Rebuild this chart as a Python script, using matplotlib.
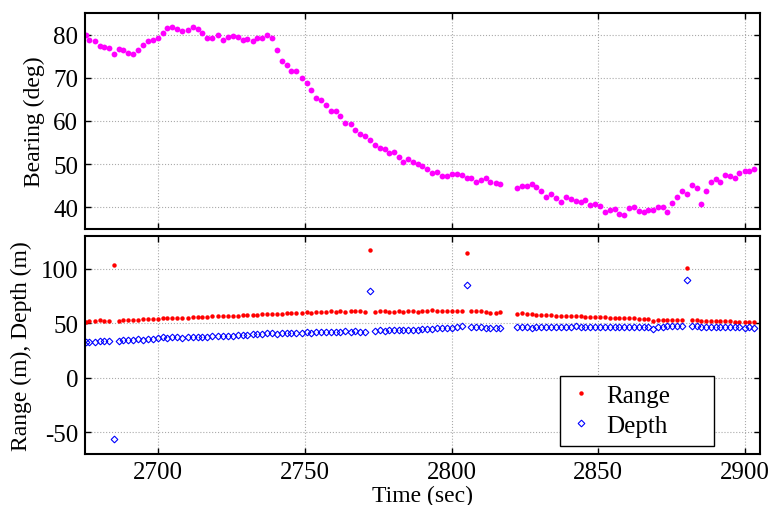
import matplotlib.pyplot as plt
import numpy as np

# sample times (sec), shared by all three series
time_s = [2675.2, 2676.5, 2678.3, 2680.0, 2681.5, 2683.2, 2684.9, 2686.6, 2687.9, 2689.8,
          2691.4, 2693.1, 2694.9, 2696.6, 2698.3, 2699.9, 2701.5, 2703.1, 2704.8, 2706.5,
          2708.2, 2710.0, 2711.7, 2713.4, 2715.0, 2716.6, 2718.4, 2720.3, 2722.0, 2723.6,
          2725.4, 2727.0, 2728.7, 2730.4, 2732.2, 2733.8, 2735.4, 2737.1, 2738.9, 2740.5,
          2742.1, 2743.7, 2745.4, 2747.1, 2748.9, 2750.6, 2752.2, 2753.9, 2755.6, 2757.3,
          2758.9, 2760.5, 2762.1, 2763.8, 2765.6, 2767.2, 2768.9, 2770.6, 2772.2, 2773.8,
          2775.5, 2777.2, 2778.8, 2780.4, 2782.0, 2783.5, 2785.0, 2786.7, 2788.4, 2790.0,
          2791.7, 2793.4, 2795.0, 2796.7, 2798.3, 2800.0, 2801.7, 2803.4, 2805.1, 2806.5,
          2808.3, 2810.0, 2811.7, 2813.2, 2815.0, 2816.6,
          2822.3, 2824.0, 2825.7, 2827.4, 2828.9, 2830.6, 2832.3, 2834.0, 2835.7, 2837.2,
          2838.9, 2840.6, 2842.3, 2844.0, 2845.6, 2847.1, 2848.8, 2850.5, 2852.2, 2853.9,
          2855.6, 2857.1, 2858.8, 2860.4, 2862.1, 2863.8, 2865.4, 2867.0, 2868.6, 2870.3,
          2872.0, 2873.5, 2875.2, 2876.8, 2878.5, 2880.2, 2881.9, 2883.6, 2885.1, 2886.8,
          2888.3, 2890.0, 2891.5, 2893.2, 2894.9, 2896.6, 2898.1, 2899.9, 2901.5, 2903.2]

bearing_deg = [79.8, 78.8, 78.5, 77.3, 77.2, 76.9, 75.5, 76.7, 76.5, 75.7,
               75.4, 76.5, 77.7, 78.5, 78.8, 79.2, 80.4, 81.5, 81.7, 81.3,
               80.9, 81.1, 81.7, 81.3, 80.4, 79.2, 79.2, 80.0, 78.8, 79.4,
               79.6, 79.5, 78.8, 79.0, 78.6, 79.2, 79.2, 79.9, 79.2, 76.4,
               74.0, 73.0, 71.5, 71.5, 70.0, 68.8, 67.1, 65.4, 64.8, 63.6,
               62.2, 62.3, 61.1, 59.5, 59.2, 58.0, 57.1, 56.5, 55.5, 54.4,
               53.8, 53.6, 52.7, 52.8, 51.7, 50.5, 51.1, 50.5, 50.0, 49.6,
               49.0, 48.0, 48.2, 47.2, 47.2, 47.8, 47.8, 47.5, 46.9, 46.9,
               45.9, 46.3, 46.9, 45.9, 45.7, 45.4,
               44.4, 44.9, 44.9, 45.4, 44.8, 43.8, 42.3, 43.0, 42.1, 41.3,
               42.5, 41.9, 41.5, 41.2, 41.7, 40.5, 40.8, 40.4, 39.0, 39.5,
               39.6, 38.5, 38.2, 39.8, 40.0, 39.2, 39.0, 39.4, 39.4, 40.0,
               40.0, 39.0, 40.9, 42.3, 43.8, 43.2, 45.2, 44.5, 40.8, 43.8,
               45.8, 46.5, 45.9, 47.5, 47.2, 46.9, 48.0, 48.4, 48.5, 48.9]

range_m = [51.4, 51.8, 52.0, 52.6, 52.4, 52.0, 103.7, 52.2, 52.6, 53.0,
           53.2, 53.0, 53.4, 53.6, 53.5, 54.3, 54.8, 54.6, 54.9, 54.7,
           54.5, 55.0, 55.6, 55.4, 55.8, 55.6, 56.2, 56.8, 56.5, 56.6,
           56.4, 57.0, 57.4, 57.8, 57.6, 57.9, 58.0, 58.4, 58.2, 58.6,
           58.5, 59.0, 59.3, 59.1, 59.7, 60.0, 59.8, 60.2, 60.0, 60.6,
           60.9, 60.5, 60.8, 60.7, 61.0, 61.6, 60.9, 60.6, 117.4, 60.4,
           61.0, 60.8, 60.6, 60.7, 61.0, 60.6, 61.2, 61.0, 60.5, 61.3,
           61.5, 61.7, 61.4, 61.6, 61.2, 61.0, 61.4, 61.6, 114.0, 61.0,
           61.4, 61.0, 60.2, 59.8, 59.6, 60.0,
           58.9, 59.0, 58.4, 58.0, 57.8, 57.6, 57.2, 57.4, 57.0, 56.8,
           56.9, 56.6, 56.4, 56.5, 56.0, 55.8, 55.9, 55.6, 55.3, 55.0,
           55.2, 54.8, 54.6, 54.4, 54.5, 54.0, 53.8, 53.6, 51.8, 52.6,
           52.8, 53.0, 52.9, 53.1, 53.2, 100.6, 52.9, 53.0, 52.4, 52.2,
           52.0, 52.1, 51.8, 51.6, 51.8, 51.4, 51.2, 51.3, 51.0, 50.8]

depth_m = [32.5, 33.0, 33.2, 33.4, 33.3, 33.5, -56.7, 34.0, 34.3, 34.8,
           35.0, 35.2, 35.0, 35.6, 35.8, 36.4, 37.0, 36.8, 37.2, 37.0,
           36.8, 37.1, 37.4, 37.2, 37.0, 37.5, 38.0, 38.2, 38.0, 38.4,
           38.6, 39.0, 39.3, 39.6, 39.8, 40.0, 40.4, 40.6, 40.8, 40.5,
           40.8, 41.0, 41.2, 41.0, 41.4, 41.6, 41.4, 41.8, 41.7, 42.0,
           42.2, 42.0, 42.3, 42.5, 42.2, 42.6, 42.3, 42.0, 79.2, 43.2,
           43.4, 43.0, 43.6, 43.4, 43.8, 43.6, 44.0, 43.8, 44.2, 44.6,
           44.4, 45.0, 45.3, 45.6, 45.7, 46.0, 46.6, 47.6, 85.0, 46.3,
           46.6, 46.2, 46.0, 45.8, 45.5, 45.8,
           46.5, 46.8, 46.3, 46.0, 46.4, 46.6, 46.8, 46.5, 46.7, 46.4,
           46.8, 46.9, 47.0, 46.8, 46.6, 46.9, 46.7, 46.6, 46.8, 46.5,
           46.7, 46.4, 46.6, 46.5, 46.8, 46.4, 46.3, 46.5, 44.4, 46.2,
           46.8, 47.0, 47.2, 47.0, 47.2, 89.6, 47.2, 47.0, 46.8, 46.6,
           46.5, 46.4, 46.6, 46.3, 46.5, 46.2, 46.4, 46.0, 46.2, 45.8]

x_ticks = [2700, 2750, 2800, 2850, 2900]
bearing_ticks = [40, 50, 60, 70, 80]
rd_ticks = [-50, 0, 50, 100]

plt.rcParams['font.family'] = ['Liberation Serif', 'DejaVu Serif']
plt.rcParams['font.size'] = 17
plt.rcParams['axes.unicode_minus'] = False
plt.rcParams['xtick.major.pad'] = 5
plt.rcParams['ytick.major.pad'] = 5

fig = plt.figure(figsize=(7.76, 5.06), dpi=100)
ax1 = fig.add_axes([0.1095, 0.5455, 0.8695, 0.4268])
ax2 = fig.add_axes([0.1095, 0.1008, 0.8695, 0.4308])

ax1.plot(time_s, bearing_deg, 'o', color='#ff00ff', markersize=4.2, markeredgewidth=0)
ax2.plot(time_s, range_m, 'o', color='#ff0000', markersize=3.2, markeredgewidth=0, label='Range')
ax2.plot(time_s, depth_m, 'D', color='#0000ff', markersize=3.4, markerfacecolor='none',
         markeredgewidth=0.8, label='Depth')

for ax in (ax1, ax2):
    ax.set_xlim(2675, 2905)
    ax.set_xticks(x_ticks)
    ax.grid(True, color='#aaaaaa', linestyle=':', linewidth=0.8)
    ax.tick_params(direction='in', top=True, right=True, length=4, width=1, labelsize=18)
    for sp in ax.spines.values():
        sp.set_linewidth(1.5)

ax1.set_ylim(35, 85)
ax1.set_yticks(bearing_ticks)
ax1.tick_params(labelbottom=False)
ax1.set_ylabel('Bearing (deg)', fontsize=17, labelpad=6)

ax2.set_ylim(-70, 130)
ax2.set_yticks(rd_ticks)
ax2.set_ylabel('Range (m), Depth (m)', fontsize=17, labelpad=6)
ax2.set_xlabel('Time (sec)', fontsize=17, va='bottom')
ax2.xaxis.set_label_coords(0.5, -0.238)

# MATLAB-style wide legend box in the lower right
leg = ax2.legend(loc='lower left', bbox_to_anchor=(0.704, 0.037, 0.228, 0.3),
                 mode='expand', borderaxespad=0,
                 fancybox=False, edgecolor='black', framealpha=1, fontsize=18,
                 markerscale=1.0, handlelength=1.0, handletextpad=0.5,
                 borderpad=0.35, labelspacing=0.3)
leg.get_frame().set_linewidth(1.0)

fig.savefig('out.png', dpi=100)
